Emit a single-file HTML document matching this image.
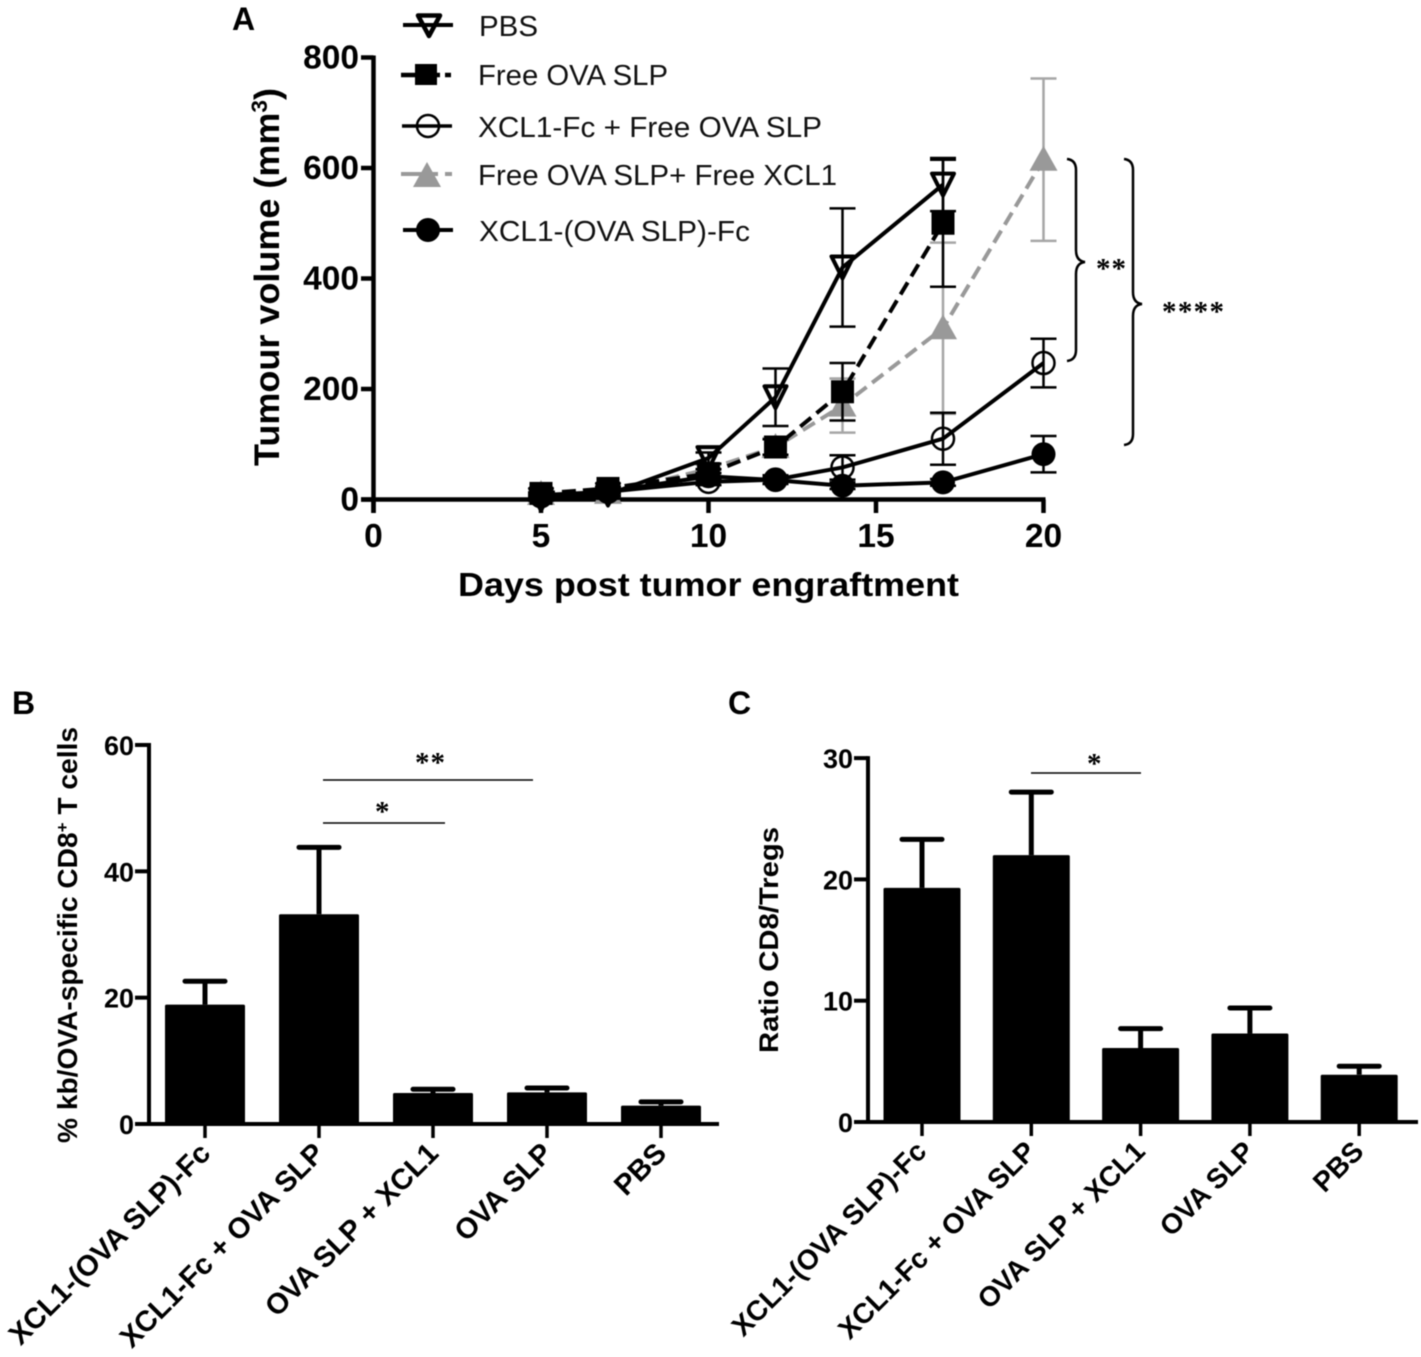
<!DOCTYPE html>
<html lang="en">
<head>
<meta charset="utf-8">
<title>Tumour volume and T cell responses</title>
<style>
html,body{margin:0;padding:0;background:#fff;}
body{width:1421px;height:1357px;overflow:hidden;}
svg{display:block;filter:blur(0.55px);}
text{font-family:"Liberation Sans",Arial,sans-serif;fill:#000;}
.tick-a{font-size:33.5px;font-weight:bold;}
.tick-bc{font-size:27px;font-weight:bold;}
.leg{font-size:28.5px;fill:#111;}
.star{font-family:"Liberation Serif",serif;font-weight:bold;font-size:29px;}
.panel{font-size:32px;font-weight:bold;}
</style>
</head>
<body>
<svg id="fig" width="1421" height="1357" viewBox="0 0 1421 1357" xmlns="http://www.w3.org/2000/svg">
  <rect x="0" y="0" width="1421" height="1357" fill="#fff"/>

  <text class="panel" x="232" y="30">A</text>
  <text class="panel" x="12" y="714">B</text>
  <text class="panel" x="728" y="714">C</text>

  <g id="chartA"></g>

  <text x="458" y="596" font-size="33" font-weight="bold" textLength="501" lengthAdjust="spacingAndGlyphs">Days post tumor engraftment</text>
  <text transform="translate(279,466) rotate(-90)" font-size="35" font-weight="bold" textLength="378" lengthAdjust="spacingAndGlyphs">Tumour volume (mm<tspan font-size="22" dy="-12">3</tspan><tspan dy="12">)</tspan></text>

  <g>
    <g>
      <line x1="403" y1="25" x2="453" y2="25" stroke="#000" stroke-width="4"/>
      <path d="M418 15.500 L440 15.500 L429 36 Z" fill="none" stroke="#000" stroke-width="4.500" stroke-linejoin="round"/>
      <text class="leg" x="479" y="36" textLength="59" lengthAdjust="spacingAndGlyphs">PBS</text>
    </g>
    <g>
      <line x1="401" y1="75" x2="440" y2="75" stroke="#000" stroke-width="4.500"/>
      <line x1="445" y1="75" x2="451" y2="75" stroke="#000" stroke-width="4.500"/>
      <rect x="415" y="64" width="22" height="21" fill="#000"/>
      <text class="leg" x="478" y="85" textLength="190" lengthAdjust="spacingAndGlyphs">Free OVA SLP</text>
    </g>
    <g>
      <line x1="402" y1="126" x2="452" y2="126" stroke="#000" stroke-width="3.500"/>
      <circle cx="428" cy="126" r="11" fill="none" stroke="#000" stroke-width="2.500"/>
      <text class="leg" x="478" y="137" textLength="344" lengthAdjust="spacingAndGlyphs">XCL1-Fc + Free OVA SLP</text>
    </g>
    <g>
      <line x1="401" y1="174" x2="438" y2="174" stroke="#999" stroke-width="4"/>
      <line x1="445" y1="174" x2="452" y2="174" stroke="#999" stroke-width="4"/>
      <path d="M427 162 L441 187 L413 187 Z" fill="#999"/>
      <text class="leg" x="478" y="185" textLength="359" lengthAdjust="spacingAndGlyphs">Free OVA SLP+ Free XCL1</text>
    </g>
    <g>
      <line x1="403" y1="230" x2="453" y2="230" stroke="#000" stroke-width="4"/>
      <circle cx="428" cy="230" r="12" fill="#000"/>
      <text class="leg" x="479" y="241" textLength="271" lengthAdjust="spacingAndGlyphs">XCL1-(OVA SLP)-Fc</text>
    </g>
  </g>

  <path d="M1067 159 Q1076 160 1076 170 L1076 250 Q1076 261 1085 262 Q1076 263 1076 274 L1076 350 Q1076 360 1067 361" fill="none" stroke="#000" stroke-width="2.500"/>
  <path d="M1124 159 Q1133 160 1133 170 L1133 292 Q1133 303 1142 304 Q1133 305 1133 316 L1133 434 Q1133 444 1124 445" fill="none" stroke="#000" stroke-width="2.500"/>
  <text class="star" x="1096" y="278" textLength="30" lengthAdjust="spacing">**</text>
  <text class="star" x="1162" y="321" textLength="62" lengthAdjust="spacing">****</text>

  <g id="chartB"></g>
  <text transform="translate(77,1143) rotate(-90)" font-size="28" font-weight="bold" textLength="416" lengthAdjust="spacingAndGlyphs">% kb/OVA-specific CD8<tspan font-size="17" dy="-9">+</tspan><tspan dy="9"> T cells</tspan></text>
  <line x1="323" y1="780" x2="533" y2="780" stroke="#000" stroke-width="1.600"/>
  <line x1="323" y1="823" x2="445" y2="823" stroke="#000" stroke-width="1.600"/>
  <text class="star" x="415" y="772" textLength="30" lengthAdjust="spacing" font-size="26">**</text>
  <text class="star" x="375" y="821" font-size="26">*</text>

  <g id="chartC"></g>
  <text transform="translate(778,1053) rotate(-90)" font-size="27" font-weight="bold" textLength="226" lengthAdjust="spacingAndGlyphs">Ratio CD8/Tregs</text>
  <line x1="1031" y1="773" x2="1141" y2="773" stroke="#000" stroke-width="1.600"/>
  <text class="star" x="1087" y="773" font-size="26">*</text>
</svg>

<script>
// Panel A data
const days = [5, 7, 10, 12, 14, 17, 20];
const xTicksA = [0, 5, 10, 15, 20];
const yTicksA = [0, 200, 400, 600, 800];
const pbsValues = [0, 9, 75, 185, 420, 570];
const pbsErrors = [2, 3, 10, 52, 107, 48];
const freeSlpValues = [11, 20, 47, 95, 195, 500];
const freeSlpErrors = [2, 3, 8, 14, 52, 115];
const xcl1FcValues = [6, 14, 32, 36, 58, 110, 247];
const xcl1FcErrors = [2, 3, 6, 8, 22, 47, 44];
const freeBothValues = [10, 12, 55, 95, 170, 310, 615];
const freeBothErrors = [2, 3, 8, 16, 49, 155, 147];
const fusionValues = [8, 14, 42, 35, 25, 31, 82];
const fusionErrors = [2, 3, 6, 6, 6, 6, 33];

// Panel B data
const categoriesB = ["XCL1-(OVA SLP)-Fc", "XCL1-Fc + OVA SLP", "OVA SLP + XCL1", "OVA SLP", "PBS"];
const valuesB = [18.9, 33.2, 4.9, 5, 2.9];
const errorsB = [3.7, 10.6, 0.6, 0.7, 0.6];
const yTicksB = [0, 20, 40, 60];

// Panel C data
const categoriesC = ["XCL1-(OVA SLP)-Fc", "XCL1-Fc + OVA SLP", "OVA SLP + XCL1", "OVA SLP", "PBS"];
const valuesC = [19.3, 22, 6.1, 7.3, 3.9];
const errorsC = [4, 5.2, 1.6, 2.1, 0.7];
const yTicksC = [0, 10, 20, 30];

const NS = "http://www.w3.org/2000/svg";

function make(parent, tag) {
  const el = document.createElementNS(NS, tag);
  parent.appendChild(el);
  return el;
}
function drawLine(parent, x1, y1, x2, y2, color, width, dash) {
  const el = make(parent, "line");
  el.setAttribute("x1", x1);
  el.setAttribute("y1", y1);
  el.setAttribute("x2", x2);
  el.setAttribute("y2", y2);
  el.setAttribute("stroke", color);
  el.setAttribute("stroke-width", width);
  if (dash) el.setAttribute("stroke-dasharray", dash);
  return el;
}
function drawText(parent, x, y, str, cls, anchor) {
  const el = make(parent, "text");
  el.setAttribute("x", x);
  el.setAttribute("y", y);
  el.setAttribute("class", cls);
  el.setAttribute("text-anchor", anchor);
  el.textContent = str;
  return el;
}

/* ---------- Panel A ---------- */
const xA = d => 373.5 + d * 33.5;
const yA = v => 499.5 - v * 0.5525;
const gA = document.getElementById("chartA");

const axisYA = drawLine(gA, xA(0), yA(800) - 2, xA(0), 513, "#000", 4.5);


const axisXA = drawLine(gA, 361, yA(0), xA(20) + 2, yA(0), "#000", 4.5);



yTicksA.forEach(t => {
  const tick = drawLine(gA, 361, yA(t), xA(0), yA(t), "#000", 4.5);
  
  
  const label = drawText(gA, 359, yA(t) + 11, String(t), "tick-a", "end");
  
  
});
xTicksA.forEach(t => {
  const tick = drawLine(gA, xA(t), yA(0), xA(t), 513, "#000", 4.5);
  
  
  const label = drawText(gA, xA(t), 547, String(t), "tick-a", "middle");
  
  
});

function drawMarker(parent, kind, cx, cy) {
  let el;
  if (kind === "triangle-down") {
    el = make(parent, "path");
    el.setAttribute("d", "M" + (cx - 11) + " " + (cy - 11) + " L" + (cx + 11) + " " + (cy - 11) + " L" + cx + " " + (cy + 11) + " Z");
    el.setAttribute("fill", "#fff");
    el.setAttribute("stroke", "#000");
    el.setAttribute("stroke-width", "4");
    el.setAttribute("stroke-linejoin", "round");
  } else if (kind === "square") {
    el = make(parent, "rect");
    el.setAttribute("x", cx - 11.5);
    el.setAttribute("y", cy - 11.5);
    el.setAttribute("width", 23);
    el.setAttribute("height", 23);
    el.setAttribute("fill", "#000");
  } else if (kind === "circle-open") {
    el = make(parent, "circle");
    el.setAttribute("cx", cx);
    el.setAttribute("cy", cy);
    el.setAttribute("r", 11);
    el.setAttribute("fill", "#fff");
    el.setAttribute("stroke", "#000");
    el.setAttribute("stroke-width", "2.5");
  } else if (kind === "triangle-up") {
    el = make(parent, "path");
    el.setAttribute("d", "M" + cx + " " + (cy - 14) + " L" + (cx + 14) + " " + (cy + 11) + " L" + (cx - 14) + " " + (cy + 11) + " Z");
    el.setAttribute("fill", "#999");
  } else {
    el = make(parent, "circle");
    el.setAttribute("cx", cx);
    el.setAttribute("cy", cy);
    el.setAttribute("r", 12);
    el.setAttribute("fill", "#000");
  }
  return el;
}

function drawSeries(name, values, errors, color, dash, kind, markerFirst, lineWidth) {
  const g = make(gA, "g");
  
  
  const pts = values.map((v, i) => xA(days[i]) + "," + yA(v)).join(" ");
  const placeMarkers = () => {
    values.forEach((v, i) => {
      const m = drawMarker(g, kind, xA(days[i]), yA(v));
      
      
    });
  };
  if (markerFirst) placeMarkers();
  const errColor = color === "#000" ? "#000" : "#a6a6a6";
  values.forEach((v, i) => {
    const cx = xA(days[i]);
    const whisker = drawLine(g, cx, yA(v + errors[i]), cx, yA(v - errors[i]), errColor, 2.5);
    
    
    const capTop = drawLine(g, cx - 13, yA(v + errors[i]), cx + 13, yA(v + errors[i]), errColor, 2.5);
    
    
    const capBottom = drawLine(g, cx - 13, yA(v - errors[i]), cx + 13, yA(v - errors[i]), errColor, 2.5);
    
    
  });
  const poly = make(g, "polyline");
  poly.setAttribute("points", pts);
  poly.setAttribute("fill", "none");
  poly.setAttribute("stroke", color);
  poly.setAttribute("stroke-width", lineWidth);
  if (dash) poly.setAttribute("stroke-dasharray", dash);
  
  
  if (!markerFirst) placeMarkers();
}

drawSeries("free-ova-slp-free-xcl1", freeBothValues, freeBothErrors, "#999", "14 7", "triangle-up", false, 4);
drawSeries("pbs", pbsValues, pbsErrors, "#000", null, "triangle-down", true, 4);
drawSeries("xcl1-fc-free-ova-slp", xcl1FcValues, xcl1FcErrors, "#000", null, "circle-open", true, 4);
drawSeries("xcl1-ova-slp-fc", fusionValues, fusionErrors, "#000", null, "circle-filled", false, 4);
drawSeries("free-ova-slp", freeSlpValues, freeSlpErrors, "#000", "14 7", "square", false, 4);

/* ---------- Panels B and C ---------- */
function drawBarChart(gId, suffix, cats, values, errors, yTicks, o) {
  const g = document.getElementById(gId);
  const y = v => o.y0 - v * o.pxPerUnit;
  const x = i => o.first + i * o.step;

  values.forEach((v, i) => {
    const cx = x(i);
    const top = y(v + errors[i]);
    const whisker = drawLine(g, cx, top, cx, y(v), "#000", 5);
    
    
    const cap = drawLine(g, cx - 20, top, cx + 20, top, "#000", 5);
    cap.setAttribute("stroke-linecap", "round");
    
    
    const bar = make(g, "rect");
    bar.setAttribute("x", cx - o.barWidth / 2);
    bar.setAttribute("y", y(v));
    bar.setAttribute("width", o.barWidth);
    bar.setAttribute("height", o.y0 - y(v));
    bar.setAttribute("fill", "#000");
    bar.setAttribute("rx", "1.5");
    
    
    const tick = drawLine(g, cx, o.y0, cx, o.y0 + 14, "#000", 3.5);
    
    
    const lx = cx + o.labelDx;
    const ly = o.y0 + o.labelDy;
    const label = drawText(g, 0, 0, cats[i], "cat", "end");
    label.setAttribute("font-size", o.labelSize);
    label.setAttribute("font-weight", "bold");
    label.setAttribute("transform", "translate(" + lx + "," + ly + ") rotate(-45)");
    
    
  });

  const axisY = drawLine(g, o.axisX, y(yTicks[yTicks.length - 1]) - 2, o.axisX, o.y0 + 2, "#000", 4);
  
  
  const axisX = drawLine(g, o.axisX - 14, o.y0, o.axisEnd, o.y0, "#000", 4);
  
  
  yTicks.forEach(t => {
    const tick = drawLine(g, o.axisX - 14, y(t), o.axisX, y(t), "#000", 4);
    
    
    const label = drawText(g, o.axisX - 15, y(t) + 10, String(t), "tick-bc", "end");
    
    
  });
}

drawBarChart("chartB", "b", categoriesB, valuesB, errorsB, yTicksB, {
  y0: 1124, pxPerUnit: 6.317, first: 205, step: 114, barWidth: 80,
  axisX: 149, axisEnd: 719, labelDx: 7, labelDy: 31, labelSize: 29
});
drawBarChart("chartC", "c", categoriesC, valuesC, errorsC, yTicksC, {
  y0: 1122, pxPerUnit: 12.13, first: 922, step: 109.3, barWidth: 77,
  axisX: 868, axisEnd: 1418, labelDx: 6, labelDy: 31, labelSize: 28
});
</script>
</body>
</html>
